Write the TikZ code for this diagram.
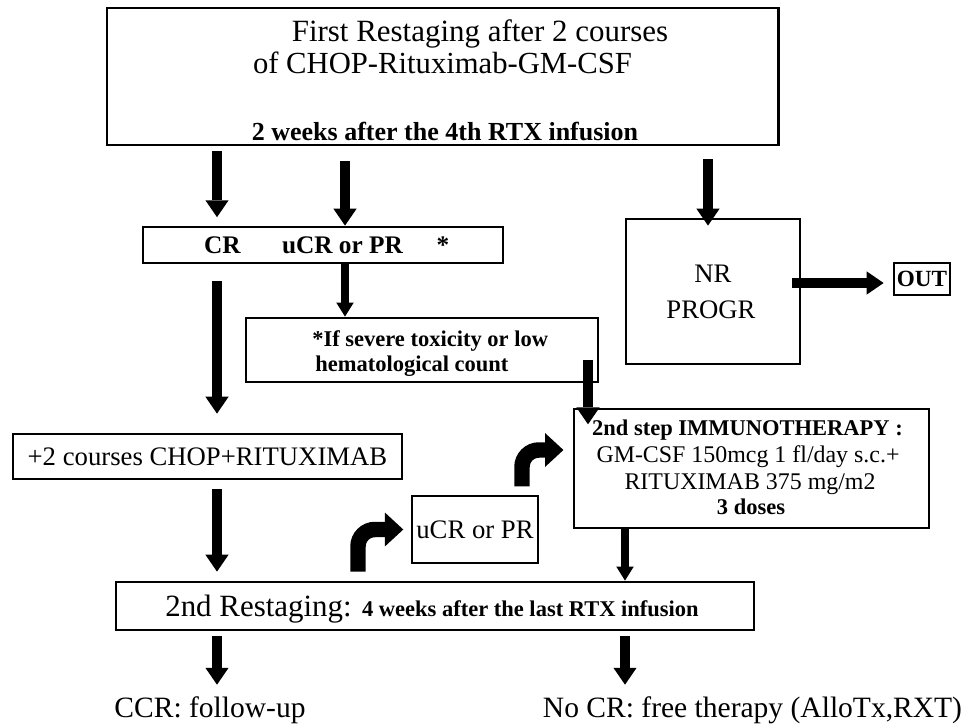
\documentclass[tikz,border=0pt]{standalone}
\usepackage{fontspec}
\setmainfont{Liberation Serif}
\usepackage{tikz}
\usetikzlibrary{positioning}
\usetikzlibrary{arrows.meta}
\newcommand{\fsz}[1]{\fontsize{#1}{#1}\selectfont}

\begin{document}
\begin{tikzpicture}[x=0.025cm, y=-0.025cm,
  box/.style={draw, rectangle, line width=2pt, inner sep=0pt},
  thinbox/.style={draw, rectangle, line width=1pt, inner sep=0pt},
  lbl/.style={inner sep=0pt, anchor=base},
  bigarrow/.style={line width=7.8pt, -{Triangle[width=16.5pt, length=12pt, line width=0pt]}},
  midarrow/.style={line width=5pt, -{Triangle[width=12.5pt, length=10pt, line width=0pt]}},
  bentarrow/.style={line width=11pt, rounded corners=12pt, -{Triangle[width=24pt, length=13pt, line width=0pt]}}]
  \useasboundingbox (0,0) rectangle (966,723);

  \coordinate (colA) at (217,0);
  \coordinate (colB) at (345,0);
  \coordinate (colC) at (708,0);
  \coordinate (colD) at (588,0);
  \coordinate (colE) at (625,0);
  \coordinate (colF) at (358,0);
  \coordinate (colG) at (522,0);
  \coordinate (rowO) at (0,283);
  \coordinate (rowU) at (0,450);

  \node (top) [box, minimum width=16.775cm, minimum height=3.425cm] at (442.5,76.5) {};
  \node (t1) [lbl] at (480,42) {\fsz{22pt}First Restaging after 2 courses};
  \node (t2) [lbl] at (442.5,73) {\fsz{21.8pt}of CHOP-Rituximab-GM-CSF};
  \node (t3) [lbl] at (445,140) {\fsz{18.5pt}\bfseries 2 weeks after the 4th RTX infusion};

  \node (crbox) [box, minimum width=9cm, minimum height=0.9cm] at (323,245) {};
  \node (tcr) [lbl] at (222.5,253) {\fsz{18pt}\bfseries CR};
  \node (tucr) [lbl] at (342.5,253) {\fsz{18pt}\bfseries uCR or PR};
  \node (tstar) [lbl] at (443,253) {\fsz{18pt}\bfseries *};

  \node (tox) [box, minimum width=8.8cm, minimum height=1.6cm] at (422,350) {};
  \node (tox1) [lbl, anchor=base west] at (312,346) {\fsz{16pt}\bfseries *If severe toxicity or low};
  \node (tox2) [lbl, anchor=base west] at (315,371) {\fsz{16pt}\bfseries hematological count};

  \node (nr) [box, minimum width=4.35cm, minimum height=3.625cm] at (713,291.5) {};
  \node (tnr) [lbl] at (713,282) {\fsz{19pt}NR};
  \node (tprogr) [lbl] at (711,318) {\fsz{19pt}PROGR};
  \node (out) [box, minimum width=1.4cm, minimum height=0.8cm] at (922,279) {\fsz{16.5pt}\bfseries OUT};

  \node (plus2) [box, minimum width=9.725cm, minimum height=1.125cm] at (207.5,456.5) {\fsz{19pt}+2 courses CHOP+RITUXIMAB};

  \node (step2) [thinbox, minimum width=8.875cm, minimum height=2.975cm] at (751.5,468.5) {};
  \node (s1) [lbl] at (747.5,435) {\fsz{16pt}\bfseries 2nd step IMMUNOTHERAPY :};
  \node (s2) [lbl] at (748,462) {\fsz{17pt}GM-CSF 150mcg 1 fl/day s.c.+};
  \node (s3) [lbl] at (750,489) {\fsz{17pt}RITUXIMAB 375 mg/m2};
  \node (s4) [lbl] at (751,514) {\fsz{16pt}\bfseries 3 doses};

  \node (ucr) [thinbox, minimum width=3.15cm, minimum height=1.675cm] at (475,529.5) {\fsz{19pt}uCR or PR};

  \node (restage) [box, minimum width=15.95cm, minimum height=1.2cm] at (435,606) {};
  \node (trest) [lbl, anchor=base west] at (165,616) {\fsz{22pt}2nd Restaging: {\fsz{16pt}\bfseries 4 weeks after the last RTX infusion}};

  \node (ccr) [lbl] at (210,717) {\fsz{21pt}CCR: follow-up};
  \node (nocr) [lbl] at (752.5,717) {\fsz{21pt}No CR: free therapy (AlloTx,RXT)};

  \draw[bigarrow, shorten <=3.5pt, shorten >=6pt] (top.south -| colA) -- (crbox.north -| colA);
  \draw[bigarrow, shorten <=10.5pt] (top.south -| colB) -- (crbox.north -| colB);
  \draw[bigarrow, shorten <=9pt, shorten >=-5.7pt] (top.south -| colC) -- (nr.north -| colC);
  \draw[bigarrow, shorten <=-6.4pt, shorten >=6.4pt] (nr.east |- rowO) -- (out.west |- rowO);
  \draw[midarrow] (crbox.south -| colB) -- (tox.north -| colB);
  \draw[bigarrow, shorten <=12pt, shorten >=13.5pt] (crbox.south -| colA) -- (plus2.north -| colA);
  \draw[bigarrow, shorten <=-17pt, shorten >=-11.4pt] (tox.south -| colD) -- (step2.north -| colD);
  \draw[bigarrow, shorten <=6.4pt, shorten >=6.4pt] (plus2.south -| colA) -- (restage.north -| colA);
  \draw[midarrow] (step2.south -| colE) -- (restage.north -| colE);
  \draw[bentarrow, shorten <=6.4pt, shorten >=5.7pt] (restage.north -| colF) |- (ucr.west);
  \draw[bentarrow, shorten <=6.4pt, shorten >=7pt] (ucr.north -| colG) |- (step2.west |- rowU);
  \draw[bigarrow, shorten <=3.5pt, shorten >=8pt] (restage.south -| colA) -- (ccr.north -| colA);
  \draw[bigarrow, shorten <=3.5pt, shorten >=8pt] (restage.south -| colE) -- (nocr.north -| colE);
\end{tikzpicture}
\end{document}
